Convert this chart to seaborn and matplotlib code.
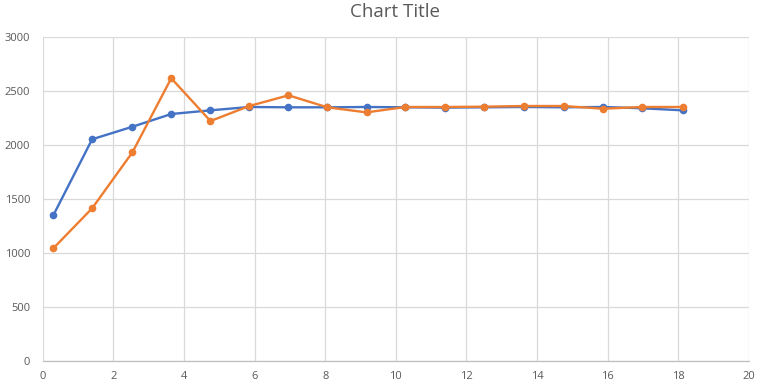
import matplotlib
matplotlib.use("Agg")
import matplotlib.pyplot as plt
import seaborn as sns
import pandas as pd

x_vals = [0.30, 1.40, 2.54, 3.64, 4.75, 5.85, 6.96, 8.06, 9.17, 10.27,
          11.40, 12.51, 13.64, 14.75, 15.87, 16.98, 18.12]
series1 = [1349, 2053, 2169, 2287, 2321, 2352, 2349, 2349, 2352, 2349,
           2346, 2349, 2352, 2349, 2352, 2340, 2321]
series2 = [1043, 1414, 1932, 2618, 2222, 2361, 2460, 2349, 2302, 2352,
           2352, 2355, 2361, 2361, 2336, 2352, 2352]
series_names = ["Series1", "Series2"]
colors = ["#4472C4", "#ED7D31"]
title = "Chart Title"

df = pd.DataFrame({
    "x": x_vals + x_vals,
    "y": series1 + series2,
    "s": [series_names[0]] * len(x_vals) + [series_names[1]] * len(x_vals),
})

sns.set_theme(style="white")
plt.rcParams["font.family"] = ["Open Sans", "DejaVu Sans"]

fig = plt.figure(figsize=(7.64, 3.91), dpi=100)
ax = fig.add_axes([42.7 / 764, 1 - 361 / 391, (749 - 42.7) / 764, (361 - 37) / 391])

sns.lineplot(data=df, x="x", y="y", hue="s", palette=colors, marker="o",
             markersize=5.5, markeredgewidth=0, linewidth=1.7, sort=False,
             legend=False, ax=ax, zorder=3)

ax.set_xlim(0, 20)
ax.set_ylim(0, 3000)
ax.set_xticks(range(0, 21, 2))
ax.set_yticks(range(0, 3001, 500))
ax.grid(True, color="#D9D9D9", linewidth=0.9)
ax.set_axisbelow(True)
for side in ["top", "right", "left"]:
    ax.spines[side].set_visible(False)
ax.spines["bottom"].set_color("#BFBFBF")
ax.spines["bottom"].set_linewidth(0.9)
ax.tick_params(axis="both", length=0, labelsize=8, labelcolor="#595959")
ax.tick_params(axis="y", pad=9)
ax.tick_params(axis="x", pad=7)
ax.set_xlabel("")
ax.set_ylabel("")

fig.text(395 / 764, 1 - 12 / 391, title, ha="center", va="center",
         fontsize=13.5, color="#595959")

fig.savefig("out.png", dpi=100)
